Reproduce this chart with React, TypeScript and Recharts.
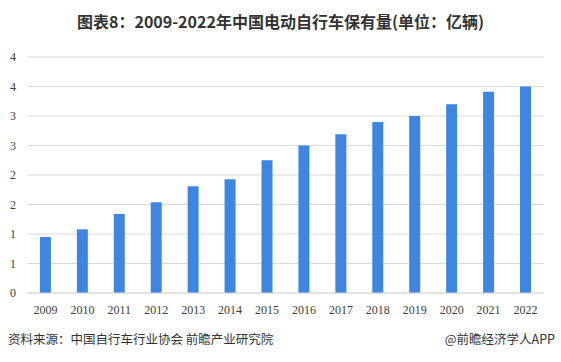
import React from "react";
import { BarChart, Bar, XAxis, YAxis, CartesianGrid } from "recharts";

const YEARS = ["2009", "2010", "2011", "2012", "2013", "2014", "2015", "2016", "2017", "2018", "2019", "2020", "2021", "2022"];
const STOCK = [0.95, 1.08, 1.34, 1.54, 1.81, 1.93, 2.25, 2.5, 2.69, 2.9, 3.0, 3.2, 3.41, 3.5];
const Y_TICKS = [0, 0.5, 1, 1.5, 2, 2.5, 3, 3.5, 4];

const TITLE = "图表8：2009-2022年中国电动自行车保有量(单位：亿辆)";
const SOURCE = "资料来源：中国自行车行业协会 前瞻产业研究院";
const CREDIT = "@前瞻经济学人APP";

const data = YEARS.map((year, i) => ({ year, value: STOCK[i] }));

const CJK = '"Noto Sans CJK SC", "Noto Sans", sans-serif';
const SERIF = '"Liberation Serif", "DejaVu Serif", serif';

export default function App() {
    return (
        <div style={{ position: "absolute", left: 0, top: 0, width: 561, height: 362, background: "#fff", overflow: "hidden" }}>
            <div
                style={{
                    position: "absolute",
                    top: 9,
                    left: 0,
                    width: 561,
                    textAlign: "center",
                    fontFamily: CJK,
                    fontWeight: 700,
                    fontSize: 16,
                    color: "#333",
                    lineHeight: "24px",
                }}
            >
                {TITLE}
            </div>
            <BarChart
                width={561}
                height={362}
                data={data}
                margin={{ top: 57, right: 17, bottom: 39, left: 0 }}
                barCategoryGap="35%"
            >
                <CartesianGrid vertical={false} stroke="#d9d9d9" />
                <XAxis
                    dataKey="year"
                    height={30}
                    tickLine={false}
                    axisLine={{ stroke: "#d9d9d9" }}
                    tick={{ fontSize: 12, fill: "#404040", fontFamily: SERIF }}
                    tickMargin={6}
                    interval={0}
                />
                <YAxis
                    width={27}
                    domain={[0, 4]}
                    ticks={Y_TICKS}
                    tickFormatter={(v: number) => String(Math.round(v))}
                    tickLine={false}
                    axisLine={false}
                    tickSize={6}
                    tickMargin={5}
                    tick={{ fontSize: 12, fill: "#404040", fontFamily: SERIF }}
                />
                <Bar dataKey="value" fill="#3f86e0" isAnimationActive={false} />
            </BarChart>
            <div
                style={{
                    position: "absolute",
                    left: 8,
                    top: 331,
                    fontFamily: CJK,
                    fontSize: 12.5,
                    color: "#333",
                    lineHeight: "16px",
                }}
            >
                {SOURCE}
            </div>
            <div
                style={{
                    position: "absolute",
                    right: 6,
                    top: 331,
                    fontFamily: CJK,
                    fontSize: 12.5,
                    color: "#333",
                    lineHeight: "16px",
                }}
            >
                {CREDIT}
            </div>
        </div>
    );
}
